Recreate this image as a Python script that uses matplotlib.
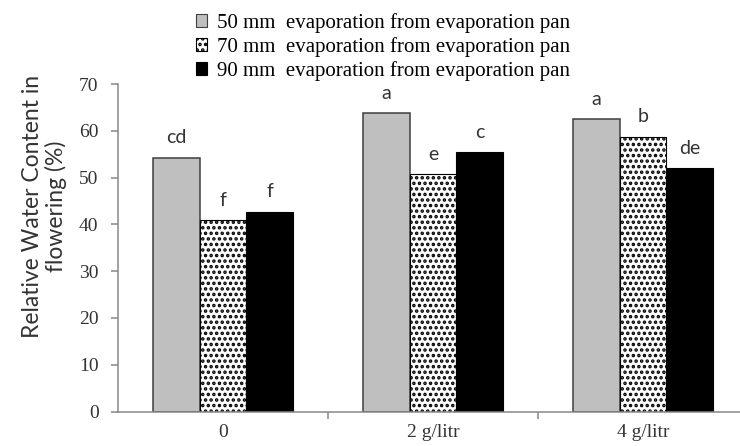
import matplotlib
matplotlib.use("Agg")
import matplotlib.pyplot as plt
from matplotlib.patches import Patch
import numpy as np

# Data: relative water content at flowering (%) per treatment
categories = ["0", "2 g/litr", "4 g/litr"]
series_names = [
    "50 mm  evaporation from evaporation pan",
    "70 mm  evaporation from evaporation pan",
    "90 mm  evaporation from evaporation pan",
]
rwc_50 = [54.2, 63.8, 62.5]
rwc_70 = [40.9, 50.7, 58.7]
rwc_90 = [42.7, 55.4, 52.0]
letters_50 = ["cd", "a", "a"]
letters_70 = ["f", "e", "b"]
letters_90 = ["f", "c", "de"]
y_ticks = [0, 10, 20, 30, 40, 50, 60, 70]

plt.rcParams["hatch.linewidth"] = 1.7

W, H = 740, 446
fig = plt.figure(figsize=(W / 100, H / 100), dpi=100)
ax = fig.add_axes([118 / W, (H - 411.5) / H, (748 - 118) / W, (411.5 - 84) / H])

x = np.arange(len(categories))
bw = 0.222
styles = [
    dict(color="#bfbfbf", edgecolor="#3f3f3f", linewidth=1.1),
    dict(color="white", edgecolor="black", hatch="...", linewidth=0.8),
    dict(color="black", edgecolor="black", linewidth=0.8),
]
series = [rwc_50, rwc_70, rwc_90]
letters = [letters_50, letters_70, letters_90]

for i, (vals, st, lab) in enumerate(zip(series, styles, letters)):
    pos = x + (i - 1) * bw
    ax.bar(pos, vals, width=bw, **st)
    for px, v, t in zip(pos, vals, lab):
        ax.annotate(t, (px, v), xytext=(0, 10.4), textcoords="offset points",
                    ha="center", va="baseline", fontsize=14, family="Lato",
                    color="#333333")

ax.set_xlim(-0.5, 2.5)
ax.set_ylim(0, 70)
ax.set_yticks(y_ticks)
ax.set_yticklabels([str(t) for t in y_ticks], family="Liberation Serif",
                   fontsize=14, color="#333333")

# category boundaries as major ticks, names on minor ticks at centres
ax.set_xticks([0.5, 1.5])
ax.set_xticklabels([])
ax.set_xticks(x, minor=True)
ax.set_xticklabels(categories, minor=True, family="Liberation Serif",
                   fontsize=14, color="#333333")
ax.tick_params(axis="x", which="minor", length=0, pad=9)
ax.tick_params(axis="x", which="major", length=5, width=1.1, color="#888888",
               direction="out")
ax.tick_params(axis="y", length=5, width=1.1, color="#888888", pad=9,
               direction="out")

for s in ["top", "right"]:
    ax.spines[s].set_visible(False)
for s in ["left", "bottom"]:
    ax.spines[s].set_color("#888888")
    ax.spines[s].set_linewidth(1.1)

fig.text(44.5 / W, 1 - 206 / H, "Relative Water Content in\nflowering (%)",
         rotation=90, ha="center", va="center", multialignment="center",
         fontsize=16.5, family="Lato", color="#333333", linespacing=1.1)

handles = [Patch(facecolor=st["color"], edgecolor=st["edgecolor"],
                 hatch=st.get("hatch"), linewidth=0.8) for st in styles]
fig.legend(handles, series_names, loc="upper left",
           bbox_to_anchor=(196 / W, 1 - 13 / H), frameon=False,
           prop={"family": "Liberation Serif", "size": 15},
           handlelength=0.55, handleheight=0.55, handletextpad=0.45,
           labelspacing=0.2, borderpad=0, borderaxespad=0)

fig.savefig("out.png", dpi=100)
